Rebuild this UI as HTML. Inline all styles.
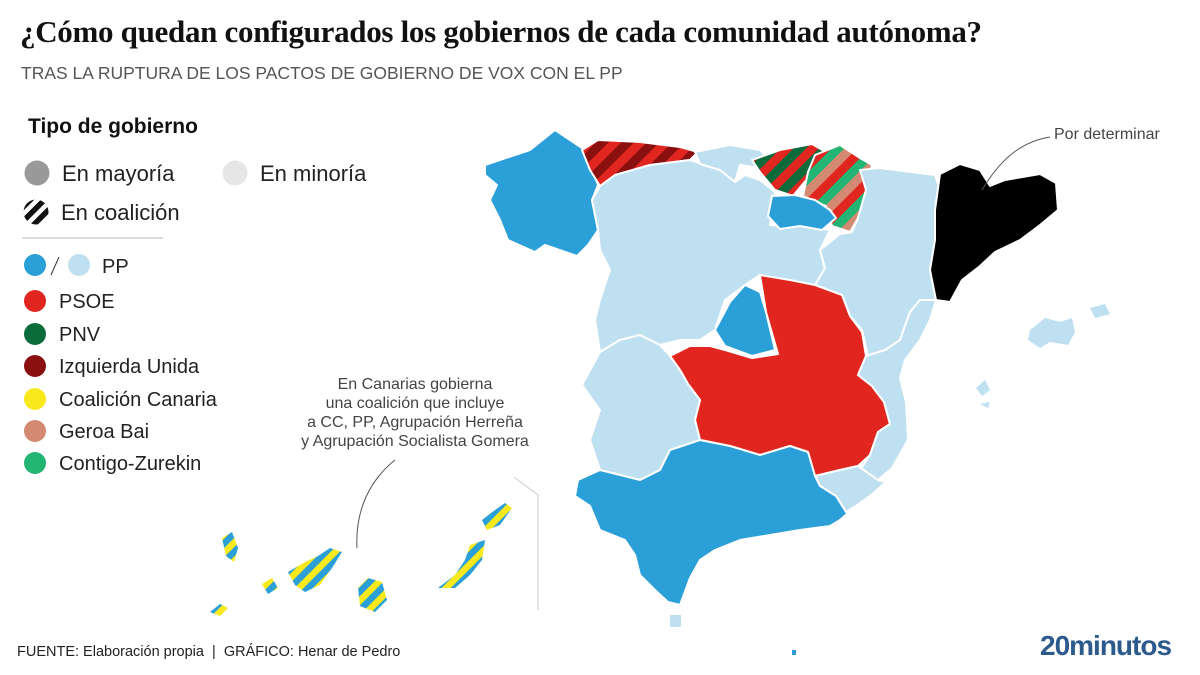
<!DOCTYPE html>
<html><head><meta charset="utf-8"><style>
html,body{margin:0;padding:0;background:#fff;}
body{width:1200px;height:675px;position:relative;overflow:hidden;font-family:"Liberation Sans",sans-serif;}
.t{position:absolute;white-space:nowrap;}
</style></head><body>
<div class="t" style="left:20px;top:14px;font-family:'Liberation Serif',serif;font-weight:bold;font-size:31px;color:#111;letter-spacing:-0.3px;">¿Cómo quedan configurados los gobiernos de cada comunidad autónoma?</div>
<div class="t" style="left:21px;top:63px;font-size:17.5px;color:#555;">TRAS LA RUPTURA DE LOS PACTOS DE GOBIERNO DE VOX CON EL PP</div>

<div class="t" style="left:28px;top:115px;font-size:21px;font-weight:bold;color:#111;">Tipo de gobierno</div>
<svg style="position:absolute;left:0;top:0" width="1200" height="675">
<defs>
<pattern id="pc" width="10" height="10" patternUnits="userSpaceOnUse" patternTransform="rotate(45)"><rect width="10" height="10" fill="#fff"/><rect width="5.5" height="10" fill="#111"/></pattern>
<pattern id="pAst" width="18" height="18" patternUnits="userSpaceOnUse" patternTransform="rotate(45)"><rect width="18" height="18" fill="#e0261f"/><rect width="9" height="18" fill="#8a1010"/></pattern>
<pattern id="pPV" width="18" height="18" patternUnits="userSpaceOnUse" patternTransform="rotate(45)"><rect width="18" height="18" fill="#e0261f"/><rect width="9" height="18" fill="#0b6b3a"/></pattern>
<pattern id="pNav" width="27" height="27" patternUnits="userSpaceOnUse" patternTransform="rotate(45)"><rect width="27" height="27" fill="#e0261f"/><rect width="9" height="27" fill="#d48a72"/><rect x="18" width="9" height="27" fill="#22b573"/></pattern>
<pattern id="pCan" width="13" height="13" patternUnits="userSpaceOnUse" patternTransform="rotate(45)"><rect width="13" height="13" fill="#2a9fd8"/><rect width="6.5" height="13" fill="#f8e81c"/></pattern>
</defs>
<g>
<circle cx="37" cy="173" r="12.5" fill="#999"/>
<text x="62" y="181" font-size="22" fill="#222" font-family="Liberation Sans">En mayoría</text>
<circle cx="235" cy="173" r="12.5" fill="#e6e6e6"/>
<text x="260" y="181" font-size="22" fill="#222" font-family="Liberation Sans">En minoría</text>
<circle cx="36" cy="212" r="12.5" fill="url(#pc)"/>
<text x="61" y="220" font-size="22" fill="#222" font-family="Liberation Sans">En coalición</text>
<line x1="22" y1="238" x2="163" y2="238" stroke="#bbb" stroke-width="1"/>
<circle cx="35" cy="265" r="11" fill="#2a9fd8"/>
<line x1="51" y1="275" x2="59" y2="257" stroke="#333" stroke-width="1"/>
<circle cx="79" cy="265" r="11" fill="#bfe0f1"/>
<text x="102" y="273" font-size="20" fill="#222" font-family="Liberation Sans">PP</text>
<g font-size="20" fill="#222" font-family="Liberation Sans">
<circle cx="35" cy="301" r="11" fill="#e0261f"/><text x="59" y="308">PSOE</text>
<circle cx="35" cy="334" r="11" fill="#0b6b3a"/><text x="59" y="341">PNV</text>
<circle cx="35" cy="366" r="11" fill="#8a1010"/><text x="59" y="373">Izquierda Unida</text>
<circle cx="35" cy="399" r="11" fill="#f8e81c"/><text x="59" y="406">Coalición Canaria</text>
<circle cx="35" cy="431" r="11" fill="#d48a72"/><text x="59" y="438">Geroa Bai</text>
<circle cx="35" cy="463" r="11" fill="#22b573"/><text x="59" y="470">Contigo-Zurekin</text>
</g>
</g>
<g stroke="#fff" stroke-width="2" stroke-linejoin="round">
<path fill="#2a9fd8" d="M485,165 L530,150 L555,130 L585,150 L598,185 L592,200 L598,230 L588,245 L577,256 L545,245 L535,252 L508,240 L500,220 L490,200 L497,185 L485,175Z"/>
<path fill="url(#pAst)" d="M582,150 L598,140 L640,142 L680,147 L698,152 L690,160 L650,165 L615,175 L600,186 L590,170Z"/>
<path fill="#bfe0f1" d="M592,200 L600,186 L615,175 L650,165 L690,160 L720,170 L735,182 L745,175 L760,180 L775,192 L770,225 L800,226 L830,230 L820,250 L825,270 L815,285 L790,282 L760,275 L745,285 L725,300 L715,330 L700,340 L680,340 L660,345 L640,335 L620,340 L600,352 L595,320 L600,300 L610,270 L600,250 L598,230Z"/>
<path fill="#bfe0f1" d="M695,152 L730,145 L760,150 L770,160 L760,168 L740,165 L735,182 L720,170 L700,164Z"/>
<path fill="url(#pPV)" d="M752,160 L780,150 L812,144 L826,152 L815,170 L802,185 L793,196 L775,190 L760,172Z"/>
<path fill="url(#pNav)" d="M808,172 L815,155 L840,145 L860,158 L872,165 L866,190 L858,218 L850,232 L832,226 L826,206 L803,196Z"/>
<path fill="#2a9fd8" d="M772,196 L795,195 L815,200 L830,210 L836,218 L822,230 L800,226 L780,229 L768,216Z"/>
<path fill="#bfe0f1" d="M860,170 L880,168 L935,175 L940,190 L935,210 L935,240 L930,270 L936,300 L920,300 L910,312 L900,340 L885,350 L868,356 L862,330 L850,316 L842,295 L815,285 L825,268 L820,250 L840,234 L852,232 L858,218 L866,190Z"/>
<path fill="#000" d="M940,174 L960,164 L980,170 L990,186 L1005,180 L1040,174 L1056,183 L1058,210 L1040,225 L1020,240 L995,252 L980,266 L962,280 L950,302 L936,300 L930,270 L935,240 L935,210Z"/>
<path fill="#2a9fd8" d="M730,302 L745,285 L760,292 L766,312 L775,350 L752,356 L725,346 L715,330Z"/>
<path fill="#e0261f" d="M760,275 L790,280 L815,285 L842,295 L850,316 L862,332 L866,356 L858,375 L872,386 L884,402 L890,424 L878,432 L870,455 L858,466 L840,470 L815,476 L808,452 L790,446 L760,455 L730,446 L700,440 L695,420 L700,400 L688,384 L680,370 L670,356 L690,346 L710,346 L725,350 L752,358 L778,354 L766,312Z"/>
<path fill="#bfe0f1" d="M600,352 L620,340 L640,335 L660,345 L670,356 L680,370 L688,384 L700,400 L695,420 L700,440 L670,450 L660,470 L640,480 L620,475 L600,470 L590,440 L600,410 L582,385Z"/>
<path fill="#bfe0f1" d="M900,340 L910,312 L920,300 L936,300 L930,320 L920,340 L905,360 L900,378 L906,402 L908,440 L892,468 L878,480 L860,470 L870,455 L878,432 L890,424 L884,402 L872,386 L858,375 L866,356 L885,350Z"/>
<path fill="#bfe0f1" d="M815,476 L840,470 L858,466 L878,480 L886,482 L870,496 L856,506 L846,512 L836,496 L820,486Z"/>
<path fill="#2a9fd8" d="M578,480 L600,470 L620,475 L640,480 L660,470 L670,450 L700,440 L730,446 L760,455 L790,446 L808,452 L815,476 L820,486 L836,496 L846,512 L856,506 L840,520 L830,526 L800,530 L770,535 L740,540 L715,550 L700,560 L690,578 L680,605 L668,602 L655,590 L640,575 L635,555 L625,540 L600,530 L590,506 L575,496Z"/>
<path fill="#bfe0f1" stroke="none" d="M1030,330 L1045,318 L1060,322 L1072,318 L1075,332 L1068,345 L1050,342 L1040,348 L1028,340Z"/>
<path fill="#bfe0f1" stroke="none" d="M1090,308 L1105,304 L1110,314 L1095,318Z"/>
<path fill="#bfe0f1" stroke="none" d="M976,388 L985,380 L990,390 L982,396Z"/>
<path fill="#bfe0f1" stroke="none" d="M980,404 L990,402 L988,408Z"/>
<rect x="670" y="615" width="11" height="12" fill="#bfe0f1" stroke="none"/>
<rect x="792" y="650" width="4" height="5" fill="#2a9fd8" stroke="none"/>
</g>
<g fill="url(#pCan)">
<path d="M222,538 L232,532 L238,548 L234,562 L226,556Z"/>
<path d="M210,612 L220,604 L228,608 L220,616Z"/>
<path d="M262,584 L272,578 L278,588 L268,594Z"/>
<path d="M288,572 L305,562 L318,556 L330,548 L342,552 L332,568 L320,585 L305,592 L295,585Z"/>
<path d="M358,588 L368,578 L382,582 L387,600 L375,612 L360,606Z"/>
<path d="M438,588 L455,575 L465,560 L470,545 L485,540 L482,560 L470,575 L455,588Z"/>
<path d="M482,520 L495,510 L505,503 L512,508 L500,525 L487,530Z"/>
</g>
<polyline points="514,477 538,495 538,610" fill="none" stroke="#ccc" stroke-width="1"/>
<path d="M357,548 C355,510 370,480 395,460" fill="none" stroke="#555" stroke-width="1"/>
<path d="M982,190 C1000,160 1020,142 1050,137" fill="none" stroke="#555" stroke-width="1"/>
</svg>
<div class="t" style="left:1054px;top:126px;font-size:16px;color:#444;">Por determinar</div>
<div class="t" style="left:270px;top:375px;width:290px;text-align:center;font-size:16px;line-height:19px;color:#444;white-space:normal;">En Canarias gobierna<br>una coalición que incluye<br>a CC, PP, Agrupación Herreña<br>y Agrupación Socialista Gomera</div>
<div class="t" style="left:17px;top:644px;font-size:14.5px;color:#222;">FUENTE: Elaboración propia &nbsp;|&nbsp; GRÁFICO: Henar de Pedro</div>
<div class="t" style="left:1040px;top:630px;font-size:28px;font-weight:bold;color:#2d5a8c;letter-spacing:-1px;">20minutos</div>
</body></html>
